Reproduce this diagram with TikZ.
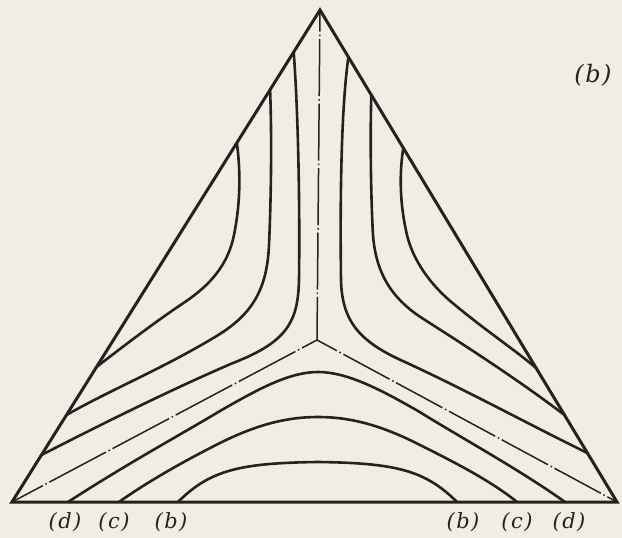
\documentclass[tikz,border=0pt]{standalone}
\usepackage{fontspec}
\newfontfamily\labfont{DejaVu Serif}
\definecolor{paper}{RGB}{240,237,229}
\definecolor{ink}{RGB}{36,34,31}
\newcommand{\plab}[1]{(\kern1.5pt\textit{#1}\kern1.5pt)}
\begin{document}
\begin{tikzpicture}[x=1pt,y=-1pt,
  edgeline/.style={ink, line width=3pt, line join=miter},
  contour/.style={ink, line width=2.6pt, line cap=round},
  axisline/.style={ink, line width=1.5pt, dash pattern=on #1pt off 3pt on 1.5pt off 3pt},
  lab/.style={ink, font=\labfont\fontsize{21}{21}\selectfont\itshape, inner sep=0pt}]
\fill[paper] (0,0) rectangle (622,538);
\useasboundingbox (0,0) rectangle (622,538);
% vertices and centre
\coordinate (A) at (320,10);
\coordinate (B) at (12,502);
\coordinate (C) at (617,502);
\coordinate (G) at (317,340);
% dash-dot axes
\draw[axisline=57, dash phase=14pt] (G) -- (A);
\draw[axisline=64, dash phase=47pt] (G) -- (B);
\draw[axisline=52.5, dash phase=30pt] (G) -- (C);
% left family
\draw[contour] (293.7,52) .. controls (298,110) and (300,200) .. (299,280)
  .. controls (298,322) and (287,342) .. (233,363)
  .. controls (170,390) and (100,425) .. (41.4,455);
\draw[contour] (270.1,90) .. controls (272,140) and (271,200) .. (269,245)
  .. controls (267,290) and (252,315) .. (215,337)
  .. controls (160,370) and (110,390) .. (66.5,415);
\draw[contour] (236.9,143) .. controls (241,175) and (240,205) .. (234,235)
  .. controls (228,265) and (210,285) .. (185,302)
  .. controls (155,322) and (125,345) .. (96.5,367);
% right family
\draw[contour] (348.4,57) .. controls (341,110) and (340,200) .. (341,280)
  .. controls (342,322) and (360,342) .. (405,362)
  .. controls (470,392) and (530,425) .. (587.4,453);
\draw[contour] (371.3,95) .. controls (370,140) and (371,200) .. (373,235)
  .. controls (376,275) and (393,300) .. (425,320)
  .. controls (480,355) and (525,385) .. (564.5,415);
\draw[contour] (403.3,148) .. controls (399,175) and (400,205) .. (407,235)
  .. controls (413,260) and (430,285) .. (455,305)
  .. controls (485,330) and (515,350) .. (536.1,368);
% bottom family
\draw[contour] (68,502) .. controls (130,462) and (180,435) .. (220,411)
  .. controls (260,388) and (290,372) .. (318,372)
  .. controls (346,372) and (378,388) .. (418,411)
  .. controls (465,440) and (520,470) .. (565,502);
\draw[contour] (119,502) .. controls (150,480) and (190,458) .. (220,443)
  .. controls (260,423) and (290,417) .. (318,417)
  .. controls (346,417) and (376,423) .. (416,443)
  .. controls (450,460) and (490,480) .. (517,502);
\draw[contour] (178,502) .. controls (210,470) and (240,463) .. (318,462)
  .. controls (395,463) and (425,470) .. (457,502);
% triangle
\draw[edgeline] (A) -- (B) -- (C) -- cycle;
% labels
\node[lab] (ld) at (65,522) {\plab{d}};
\node[lab] (lc) at (114,522) {\plab{c}};
\node[lab] (lb) at (171,522) {\plab{b}};
\node[lab] (rb) at (463,522) {\plab{b}};
\node[lab] (rc) at (517,522) {\plab{c}};
\node[lab] (rd) at (569,522) {\plab{d}};
\node[lab, font=\labfont\fontsize{24}{24}\selectfont\itshape] (tb) at (593,75) {\plab{b}};
\end{tikzpicture}
\end{document}
